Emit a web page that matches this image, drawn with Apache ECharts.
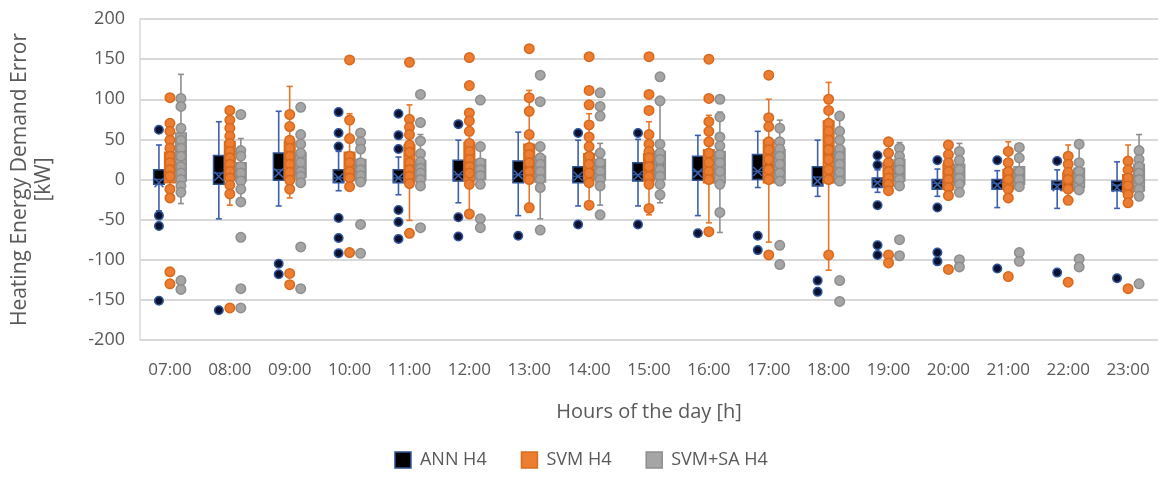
<!DOCTYPE html>
<html>
<head>
<meta charset="utf-8">
<script src="https://cdn.jsdelivr.net/npm/echarts@6/dist/echarts.min.js"></script>
<style>
html,body{margin:0;padding:0;background:#fff;}
#chart{width:1162px;height:480px;}
</style>
</head>
<body>
<div id="chart"></div>
<script>
const hours = ['07:00','08:00','09:00','10:00','11:00','12:00','13:00','14:00','15:00','16:00','17:00','18:00','19:00','20:00','21:00','22:00','23:00'];
const yTicks = [-200,-150,-100,-50,0,50,100,150,200];

// [min whisker, Q1, median, Q3, max whisker]
const annStats = [
  [-39,-6,0,12,43],[-49,-6,8,30,72],[-33,-1,12,33,85],[-14,-4,2,12,35],[-19,-4,2,12,28],
  [-29,-2,6,24,49],[-45,-4,6,23,59],[-33,-4,4,16,49],[-33,-2,6,21,50],[-45,-1,10,29,55],
  [-10,0,10,31,60],[-21,-8,3,16,49],[-16,-10,-3,2,12],[-21,-12,-5,0,13],[-35,-12,-5,0,11],
  [-36,-12,-6,-2,12],[-36,-14,-7,-2,22]
];
const annMean = [-4,4,8,2,2,5,6,4,5,8,10,-2,-4,-6,-7,-9,-10];
const annPoints = [
  [62,-45,-58,-151],[-163],[-105,-118],[84,58,41,-48,-73,-92],[82,55,38,-38,-53,-74],
  [69,-47,-71],[-70],[58,-56],[58,-56],[-67],[-70,-88],[-126,-140],[30,18,-32,-82,-94],
  [24,-35,-91,-102],[24,-111],[23,-116],[-123]
];

const svmStats = [
  [-23,-4,12,34,70],[-32,-1,20,47,86],[-23,0,20,47,116],[-9,0,12,34,82],[-51,-3,12,43,93],
  [-43,-2,15,46,83],[-41,-1,15,44,111],[-32,0,12,32,82],[-44,-2,12,32,72],[-54,-4,12,37,80],
  [-78,-4,14,49,100],[-113,-4,30,73,121],[-14,-8,5,21,47],[-20,-12,0,19,43],[-23,-12,0,12,47],
  [-26,-14,-4,8,43],[-29,-16,-6,6,43]
];
const svmMean = [16,22,22,14,16,20,20,16,16,14,22,37,6,3,2,-2,-4];
const svmPoints = [
  [102,70,60,49,39,29,21,12,4,-12,-23,-115,-130],
  [86,74,64,54,45,35,27,19,10,2,-7,-18,-160],
  [81,66,49,39,29,19,9,-1,-12,-117,-131],
  [149,74,51,29,21,10,2,-9,-91],
  [146,75,65,56,43,34,21,12,4,-5,-67],
  [152,117,83,73,60,45,35,25,16,8,-6,-43],
  [163,102,85,56,40,31,21,10,0,-35],
  [153,111,93,68,53,41,29,19,8,-4,-32],
  [153,106,86,56,44,35,27,16,4,-6,-36],
  [150,101,72,60,47,33,21,10,0,-65],
  [130,77,66,47,37,25,12,0,-94],
  [100,86,70,60,49,37,25,12,0,-94],
  [47,33,21,10,2,-6,-14,-94,-104],
  [43,31,21,10,0,-10,-20,-112],
  [35,21,10,0,-12,-23,-121],
  [29,19,9,0,-12,-26,-128],
  [23,12,2,-8,-19,-29,-136]
];

const saStats = [
  [-30,-2,20,58,131],[-28,-2,8,21,51],[-4,3,14,33,56],[-3,-2,10,25,58],[-8,0,10,23,56],
  [-6,0,10,25,41],[-49,-3,10,29,41],[-32,0,10,25,45],[-29,0,10,35,98],[-66,-4,12,35,84],
  [-4,-4,10,37,74],[-4,-4,10,39,79],[-8,-2,10,25,46],[-16,-6,5,19,45],[-9,-6,5,16,40],
  [-13,-10,2,14,44],[-21,-14,0,19,56]
];
const saMean = [30,8,18,12,12,12,12,12,14,14,16,16,12,6,5,4,2];
const saPoints = [
  [101,91,64,49,39,29,16,8,0,-8,-16,-126,-137],
  [81,36,29,16,8,-2,-12,-28,-72,-136,-160],
  [90,56,44,33,21,10,4,-4,-84,-136],
  [58,47,38,21,12,5,-3,-56,-92],
  [106,71,48,32,22,14,8,0,-8,-60],
  [99,41,21,12,5,-6,-49,-60],
  [130,97,41,27,19,10,0,-10,-63],
  [108,91,79,33,21,10,0,-8,-44],
  [128,98,44,33,25,12,4,-6,-19],
  [100,78,53,42,31,21,10,-6,-41],
  [64,47,38,29,19,8,-2,-82,-106],
  [79,60,49,38,29,19,9,-2,-126,-152],
  [39,29,21,12,0,-8,-75,-95],
  [35,24,12,2,-6,-16,-100,-109],
  [40,27,10,0,-9,-91,-102],
  [44,21,10,0,-13,-99,-109],
  [36,25,16,8,0,-12,-21,-130]
];

const FONT = "'Open Sans', sans-serif";
const TXT = '#595959';

function boxData(stats, means) {
  return stats.map((s, i) => [i, s[0], s[1], s[2], s[3], s[4], means[i]]);
}
function pointData(pts) {
  const out = [];
  pts.forEach((arr, i) => arr.forEach(v => out.push([i, v])));
  return out;
}

function makeRender(off, sty) {
  return function (params, api) {
    const c = api.value(0);
    const yOf = v => api.coord([c, v])[1];
    const x = api.coord([c, 0])[0] + off;
    const yMin = yOf(api.value(1)), yQ1 = yOf(api.value(2)), yMed = yOf(api.value(3));
    const yQ3 = yOf(api.value(4)), yMax = yOf(api.value(5)), yMean = yOf(api.value(6));
    const hw = 5.3, cap = 3, m = 4.5;
    const ls = { stroke: sty.whisker, lineWidth: 1.6 };
    return {
      type: 'group',
      children: [
        { type: 'line', shape: { x1: x, y1: yQ3, x2: x, y2: yMax }, style: ls },
        { type: 'line', shape: { x1: x, y1: yQ1, x2: x, y2: yMin }, style: ls },
        { type: 'line', shape: { x1: x - cap, y1: yMax, x2: x + cap, y2: yMax }, style: ls },
        { type: 'line', shape: { x1: x - cap, y1: yMin, x2: x + cap, y2: yMin }, style: ls },
        { type: 'rect', shape: { x: x - hw, y: yQ3, width: hw * 2, height: Math.max(yQ1 - yQ3, 1) },
          style: { fill: sty.fill, stroke: sty.border, lineWidth: 1.5 } },
        { type: 'line', shape: { x1: x - hw, y1: yMed, x2: x + hw, y2: yMed }, style: { stroke: sty.border, lineWidth: 1.5 } },
        { type: 'line', shape: { x1: x - m, y1: yMean - m, x2: x + m, y2: yMean + m }, style: { stroke: sty.mean, lineWidth: 1.6 } },
        { type: 'line', shape: { x1: x - m, y1: yMean + m, x2: x + m, y2: yMean - m }, style: { stroke: sty.mean, lineWidth: 1.6 } }
      ]
    };
  };
}

const groups = [
  { name: 'ANN H4', off: -11, stats: annStats, mean: annMean, pts: annPoints,
    sty: { fill: '#000000', border: '#2F5597', whisker: '#3B60AE', mean: '#3B60AE' },
    pt: { color: '#0B1030', borderColor: '#2F5597', size: 8.5 } },
  { name: 'SVM H4', off: 0, stats: svmStats, mean: svmMean, pts: svmPoints,
    sty: { fill: '#ED7D31', border: '#D96C1F', whisker: '#E5772A', mean: '#C55A11' },
    pt: { color: '#ED7D31', borderColor: '#D8691C', size: 9.5 } },
  { name: 'SVM+SA H4', off: 11, stats: saStats, mean: saMean, pts: saPoints,
    sty: { fill: '#A5A5A5', border: '#8E8E8E', whisker: '#8E8E8E', mean: '#7A7A7A' },
    pt: { color: '#A5A5A5', borderColor: '#8E8E8E', size: 9.5 } }
];

const series = [];
groups.forEach(g => {
  series.push({
    name: g.name, type: 'custom', z: 2,
    renderItem: makeRender(g.off, g.sty),
    encode: { x: 0, y: [1, 5] },
    itemStyle: { color: g.sty.fill, borderColor: g.sty.border },
    data: boxData(g.stats, g.mean),
    silent: true
  });
});
groups.forEach(g => {
  series.push({
    name: g.name, type: 'scatter', z: 3,
    symbol: 'circle', symbolSize: g.pt.size, symbolOffset: [g.off, 0],
    itemStyle: { color: g.pt.color, borderColor: g.pt.borderColor, borderWidth: 1.5, opacity: 1 },
    data: pointData(g.pts),
    silent: true
  });
});

const chart = echarts.init(document.getElementById('chart'), null, { renderer: 'canvas' });
chart.setOption({
  animation: false,
  backgroundColor: '#ffffff',
  grid: { left: 133, right: 4, top: 19, bottom: 140, containLabel: false },
  legend: {
    bottom: 6, left: 'center',
    itemWidth: 16, itemHeight: 16, itemGap: 34,
    textStyle: { fontFamily: FONT, fontSize: 18, color: TXT, padding: [0, 0, 0, 4] },
    data: [
      { name: 'ANN H4', icon: 'rect', itemStyle: { color: '#000000', borderColor: '#2F5597', borderWidth: 1.5 } },
      { name: 'SVM H4', icon: 'rect', itemStyle: { color: '#ED7D31', borderColor: '#D96C1F', borderWidth: 1.5 } },
      { name: 'SVM+SA H4', icon: 'rect', itemStyle: { color: '#A5A5A5', borderColor: '#8E8E8E', borderWidth: 1.5 } }
    ]
  },
  xAxis: {
    type: 'category', data: hours,
    name: 'Hours of the day [h]', nameLocation: 'middle', nameGap: 62,
    nameTextStyle: { fontFamily: FONT, fontSize: 20, color: TXT },
    axisLine: { show: false }, axisTick: { show: false },
    axisLabel: { fontFamily: FONT, fontSize: 17, color: TXT, margin: 22 },
    splitLine: { show: false }
  },
  yAxis: {
    type: 'value', min: yTicks[0], max: yTicks[yTicks.length - 1], interval: 50,
    name: 'Heating Energy Demand Error\n[kW]', nameLocation: 'middle', nameGap: 84,
    nameTextStyle: { fontFamily: FONT, fontSize: 21, color: TXT, lineHeight: 24 },
    axisLine: { show: true, lineStyle: { color: '#D9D9D9', width: 1.5 } },
    axisTick: { show: false },
    axisLabel: { fontFamily: FONT, fontSize: 18, color: TXT, margin: 15 },
    splitLine: { show: true, lineStyle: { color: '#D9D9D9', width: 2 } }
  },
  series: series
});
</script>
</body>
</html>
